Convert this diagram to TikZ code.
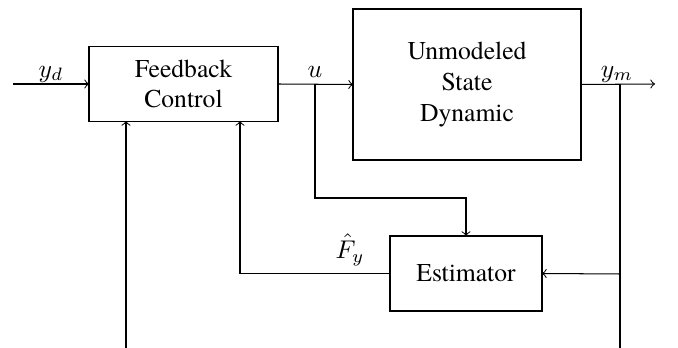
\documentclass[tikz,border=0pt]{standalone}
\usepackage{fontspec}
\setmainfont{TeX Gyre Termes}
\begin{document}
\begin{tikzpicture}[x=0.39pt,y=-0.39pt,line width=0.4pt,
  blk/.style={draw,rectangle,inner sep=0pt,outer sep=0pt,align=center,font=\rmfamily},
  lbl/.style={inner sep=0pt}]
\useasboundingbox (0,0) rectangle (678,348);
% blocks
\node[blk,minimum width=73.71pt,minimum height=29.25pt] (fb) at (183.5,84) {Feedback\\Control};
\node[blk,minimum width=88.92pt,minimum height=58.89pt] (plant) at (467,84.5) {Unmodeled\\State\\Dynamic};
\node[blk,minimum width=59.28pt,minimum height=29.25pt] (est) at (466,273.5) {Estimator};
% coordinates
\coordinate (in) at (13,84);
\coordinate (ub) at (315,84);
\coordinate (ubt) at (315,198);
\coordinate (out) at (655,84);
\coordinate (yb) at (620,84);
\coordinate (ye) at (620,274);
\coordinate (yend) at (620,348);
\coordinate (fb2) at (240,121);
\coordinate (fb1) at (126,121);
\coordinate (b1) at (126,348);
% connectors
\draw[->] (in) -- (fb.west);
\draw[->] (fb.east) -- (plant.west);
\draw[->] (ub) -- (ubt) -| (est.north);
\draw[->] (plant.east) -- (out);
\draw (yb) -- (yend);
\draw[->] (ye) -- (est.east);
\draw[->] (est.west) -| (fb2);
\draw[->] (b1) -- (fb1);
% labels
\node[lbl] (lyd) at (51,74) {$y_d$};
\node[lbl] (lu) at (315,72) {$u$};
\node[lbl] (lym) at (617,74) {$y_m$};
\node[lbl] (lfy) at (350,250) {$\hat{F}_y$};
\end{tikzpicture}
\end{document}
